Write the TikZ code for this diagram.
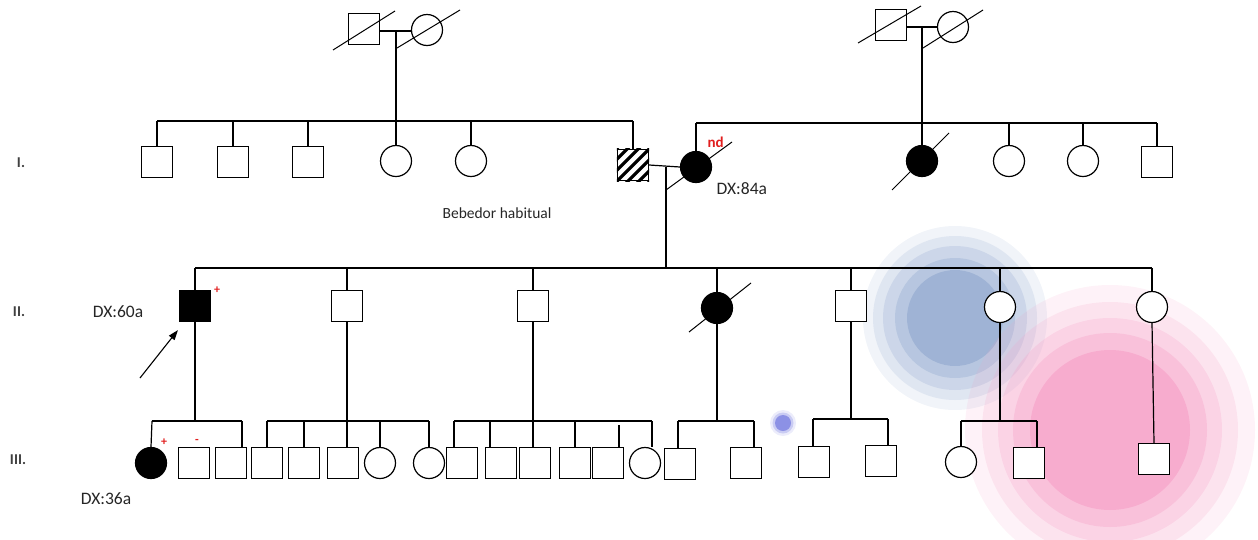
\documentclass[tikz,border=0pt]{standalone}
\usepackage{fontspec}
\setmainfont{Carlito}
\usetikzlibrary{arrows.meta}
\definecolor{blobblue}{RGB}{136,161,203}
\definecolor{blobpink}{RGB}{245,152,194}
\definecolor{dotblue}{RGB}{125,130,225}
\definecolor{markred}{RGB}{225,30,30}
\begin{document}
\begin{tikzpicture}[x=1pt,y=-1pt,line width=1.2pt,
  sq/.style={draw=black,fill=white,minimum size=31pt,inner sep=0pt,line width=1.2pt},
  ci/.style={draw=black,fill=white,circle,minimum size=31pt,inner sep=0pt,line width=1.2pt},
  aff/.style={fill=black},
  slash/.style={line width=1pt},
  lbl/.style={font=\fontsize{17.5}{17.5}\selectfont,inner sep=0pt,text=black!85},
  gen/.style={font=\bfseries\fontsize{15}{15}\selectfont,inner sep=0pt,text=black!75},
  redmark/.style={font=\bfseries\fontsize{12}{12}\selectfont,inner sep=0pt,text=markred}]
\useasboundingbox (0,0) rectangle (1258,539);
% background blobs
\foreach \r/\o in {92/0.12,82/0.17,72/0.22,60/0.3,48/0.5}
  \fill[blobblue,opacity=\o] (955,318) circle[radius=\r];
\foreach \r/\o in {145/0.12,128/0.17,112/0.22,97/0.3,80/0.5}
  \fill[blobpink,opacity=\o] (1110,430) circle[radius=\r];
\fill[dotblue,opacity=0.15] (783,423) circle[radius=13];
\fill[dotblue,opacity=0.3] (783,423) circle[radius=10.5];
\fill[dotblue,opacity=0.8] (783,423) circle[radius=8];

% ---------- generation labels
\node[gen] (gI) at (21,163) {I.};
\node[gen] (gII) at (19,312) {II.};
\node[gen] (gIII) at (18,460) {III.};

% ---------- grandparents left
\node[sq] (ga) at (364,29) {};
\node[ci] (gb) at (427,30) {};
\draw (ga.east |- 0,31) -- (gb.west |- 0,31);
\draw[slash] ([shift={(-31,21)}]ga.center) -- ([shift={(31,-18)}]ga.center);
\draw[slash] ([shift={(-30,18)}]gb.center) -- ([shift={(33,-20)}]gb.center);
\coordinate (mA) at (396,31);
\coordinate (sA) at (396,121);
\draw (mA) -- (sA);

% ---------- grandparents right
\node[sq] (gc) at (891,25) {};
\node[ci] (gd) at (953,27) {};
\draw (gc.east |- 0,27) -- (gd.west |- 0,27);
\draw[slash] ([shift={(-33,18)}]gc.center) -- ([shift={(30,-19)}]gc.center);
\draw[slash] ([shift={(-30,21)}]gd.center) -- ([shift={(30,-17)}]gd.center);
\coordinate (mB) at (922,27);
\coordinate (sB) at (922,123);

% ---------- generation I, left sibship
\node[sq] (a1) at (157,162) {};
\node[sq] (a2) at (233,162) {};
\node[sq] (a3) at (308,162) {};
\node[ci] (a4) at (396,161) {};
\node[ci] (a5) at (471,161) {};
\node[sq] (h) at (633,165) {};
\begin{scope}
  \clip (h.south west) rectangle (h.north east);
  \foreach \k in {-33,-22,...,33}
    \draw[line width=3.2pt] ([shift={(\k-20,20)}]h.center) -- ([shift={(\k+20,-20)}]h.center);
\end{scope}
\node[sq,fill=none] at (h.center) {};
\draw (a1.north |- sA) -- (h.north |- sA);
\foreach \n in {a1,a2,a3,a4,a5,h} \draw (\n.north) -- (\n.north |- sA);

% ---------- generation I, right sibship
\node[ci,aff] (w) at (696,167) {};
\node[ci,aff] (b1) at (922,161) {};
\node[ci] (b2) at (1009,161) {};
\node[ci] (b3) at (1083,161) {};
\node[sq] (b4) at (1157,162) {};
\draw (mB) -- (b1.north);
\draw (w.north |- sB) -- (b4.north |- sB);
\foreach \n in {w,b2,b3,b4} \draw (\n.north) -- (\n.north |- sB);
\draw[slash] ([shift={(-30,29)}]b1.center) -- ([shift={(27,-28)}]b1.center);

% ---------- couple I
\draw (h.east) -- (w.west);
\coordinate (mC) at (666,167);
\coordinate (sC) at (666,268);
\draw (mC) -- (sC);
\draw[slash] ([shift={(-30,23)}]w.center) -- ([shift={(36,-25)}]w.center);
\node[redmark,font=\bfseries\fontsize{15}{15}\selectfont,anchor=west] (nd) at (707,142) {nd};
\node[lbl,anchor=west] (dx84) at (716,189) {DX:84a};
\node[lbl,font=\fontsize{15.5}{15.5}\selectfont] (beb) at (497,213) {Bebedor habitual};

% ---------- generation II
\node[sq,aff] (p1) at (195,306) {};
\node[sq] (p2) at (347,306) {};
\node[sq] (p3) at (533,306) {};
\node[ci,aff] (p4) at (717,308) {};
\node[sq] (p5) at (851,306) {};
\node[ci] (p6) at (1000,307) {};
\node[ci] (p7) at (1152,307) {};
\draw (p1.north |- sC) -- (p7.north |- sC);
\foreach \n in {p1,p2,p3,p4,p5,p6,p7} \draw (\n.north) -- (\n.north |- sC);
\draw[slash] ([shift={(-28,24)}]p4.center) -- ([shift={(34,-25)}]p4.center);
\node[redmark] (plus1) at (217,290) {+};
\node[lbl] (dx60) at (118,312) {DX:60a};
\coordinate (arrtail) at (140,378);
\draw[line width=1.1pt,-{Triangle[length=10pt,width=7pt]}] (arrtail) -- ([shift={(-1,8)}]p1.south west);

% ---------- generation III, family of p1
\coordinate (f1) at (195,421);
\coordinate (f1L) at (152,421);
\coordinate (f1R) at (242,421);
\node[ci,aff] (r1) at (151,463) {};
\node[sq] (r2) at (194,463) {};
\node[sq] (r3) at (231,463) {};
\draw (p1.south) -- (f1);
\draw (f1L) -- (f1R);
\draw (f1L) -- (r1.north);
\draw (f1R) -- (f1R |- r3.north);
\node[redmark] (plus2) at (164,442) {+};
\node[redmark] (minus) at (197,441) {-};
\node[lbl] (dx36) at (106,499) {DX:36a};

% ---------- family of p2
\coordinate (f2) at (347,421);
\node[sq] (k1) at (267,463) {};
\node[sq] (k2) at (304,463) {};
\node[sq] (k3) at (343,463) {};
\node[ci] (k4) at (380,463) {};
\node[ci] (k5) at (429,463) {};
\draw (p2.south) -- (f2);
\draw (k1.north |- f2) -- (k5.north |- f2);
\draw (k1.north |- f2) -- (k1.north);
\draw (k2.north |- f2) -- (k2.north);
\draw (f2) -- (f2 |- k3.north);
\draw (k4.north |- f2) -- (k4.north);
\draw (k5.north |- f2) -- (k5.north);

% ---------- family of p3
\coordinate (f3) at (533,421);
\node[sq] (m1) at (462,463) {};
\node[sq] (m2) at (501,463) {};
\node[sq] (m3) at (535,463) {};
\node[sq] (m4) at (575,463) {};
\node[sq] (m5) at (608,463) {};
\node[ci] (m6) at (645,463) {};
\coordinate (d31) at (454,421);
\coordinate (d32) at (490,421);
\coordinate (d35) at (619,425);
\coordinate (d36) at (652,421);
\draw (p3.south) -- (f3);
\draw (d31) -- (d36);
\draw (d31) -- (d31 |- m1.north);
\draw (d32) -- (d32 |- m2.north);
\draw (f3) -- (f3 |- m3.north);
\draw (m4.north |- f3) -- (m4.north);
\draw (d35) -- (d35 |- m5.north);
\draw (d36) -- (d36 |- m6.north);

% ---------- family of p4
\coordinate (f4) at (717,421);
\node[sq] (n1) at (680,464) {};
\node[sq] (n2) at (746,463) {};
\coordinate (d41) at (678,421);
\coordinate (d42) at (754,421);
\draw (p4.south) -- (f4);
\draw (d41) -- (d42);
\draw (d41) -- (d41 |- n1.north);
\draw (d42) -- (d42 |- n2.north);

% ---------- family of p5
\coordinate (f5) at (851,419);
\node[sq] (q1) at (814,462) {};
\node[sq] (q2) at (881,461) {};
\coordinate (d51) at (813,419);
\coordinate (d52) at (888,419);
\draw (p5.south) -- (f5);
\draw (d51) -- (d52);
\draw (d51) -- (d51 |- q1.north);
\draw (d52) -- (d52 |- q2.north);

% ---------- family of p6
\coordinate (f6) at (1000,421);
\node[ci] (s1) at (961,462) {};
\node[sq] (s2) at (1029,463) {};
\coordinate (d62) at (1037,421);
\draw (p6.south) -- (f6);
\draw (s1.north |- f6) -- (d62);
\draw (s1.north |- f6) -- (s1.north);
\draw (d62) -- (d62 |- s2.north);

% ---------- family of p7
\node[sq] (t1) at (1154,459) {};
\draw (p7.south) -- (t1.north);
\end{tikzpicture}
\end{document}
